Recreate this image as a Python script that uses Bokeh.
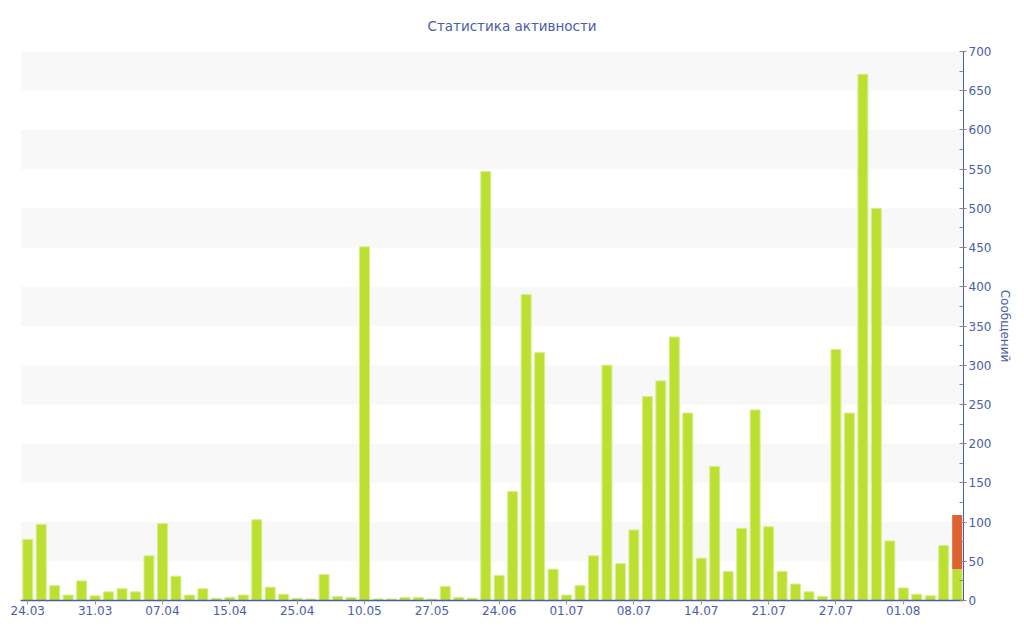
from bokeh.plotting import figure
from bokeh.models import ColumnDataSource, FixedTicker, SingleIntervalTicker, Range1d, LinearAxis, BoxAnnotation
from bokeh.embed import file_html
from bokeh.resources import INLINE

# ---- data ----
tick_labels = ["24.03", "31.03", "07.04", "15.04", "25.04", "10.05", "27.05",
               "24.06", "01.07", "08.07", "14.07", "21.07", "27.07", "01.08"]
messages = [78, 97, 19, 7, 25, 6, 11, 15, 11, 57,
            98, 31, 7, 15, 3, 4, 7, 103, 17, 8,
            3, 2, 33, 5, 4, 451, 2, 2, 4, 4,
            2, 18, 4, 3, 547, 32, 139, 390, 316, 40,
            7, 19, 57, 300, 47, 90, 260, 280, 336, 239,
            54, 171, 37, 92, 243, 94, 37, 21, 11, 5,
            320, 239, 671, 500, 76, 16, 8, 6, 70, 40]
today_extra = [0] * 69 + [69]

idx = list(range(len(messages)))
src = ColumnDataSource(dict(x=idx, main=messages, extra=today_extra))

BLUE = "#4a5da8"
GREEN = "#bce031"
ORANGE = "#e0622f"

p = figure(frame_width=943, frame_height=549, output_backend="svg",
           toolbar_location=None, x_range=Range1d(-0.54, 69.47),
           y_range=Range1d(0, 700), y_axis_location=None,
           min_border_left=20, min_border_top=51, min_border_bottom=0,
           min_border_right=0, outline_line_color=None,
           title="Статистика активности")

p.title.align = "left"
p.title.offset = 407
p.title.vertical_align = "middle"
p.title.text_font = "DejaVu Sans"
p.title.text_font_size = "13.5px"
p.title.text_font_style = "normal"
p.title.text_color = BLUE
p.title.standoff = 33

# alternating bands
for b in range(50, 700, 100):
    p.add_layout(BoxAnnotation(bottom=b, top=b + 50, fill_color="#f8f8f8",
                               fill_alpha=1, line_color=None, level="underlay"))

p.xgrid.visible = False
p.ygrid.visible = False

p.vbar_stack(["main", "extra"], x="x", width=0.74, source=src,
             color=[GREEN, ORANGE], line_color=["#d8ee8c", None], line_width=1)

# x axis
xa = p.xaxis[0]
xa.ticker = FixedTicker(ticks=[i * 5 for i in range(len(tick_labels))])
xa.major_label_overrides = {i * 5: t for i, t in enumerate(tick_labels)}
xa.axis_line_color = BLUE
xa.axis_line_width = 1.5
xa.major_tick_line_color = "#999999"
xa.major_tick_in = 0
xa.major_tick_out = 4
xa.minor_tick_line_color = None
xa.major_label_text_color = BLUE
xa.major_label_text_font = "DejaVu Sans"
xa.major_label_text_font_size = "12px"
xa.major_label_standoff = 1

# right y axis
ya = LinearAxis(ticker=SingleIntervalTicker(interval=50, num_minor_ticks=2),
                axis_label="Сообщений")
ya.axis_line_color = BLUE
ya.axis_line_width = 1
ya.major_tick_line_color = "#888888"
ya.major_tick_in = 3
ya.major_tick_out = 3
ya.minor_tick_line_color = "#888888"
ya.minor_tick_in = 4
ya.minor_tick_out = 0
ya.major_label_text_color = BLUE
ya.major_label_text_font = "DejaVu Sans"
ya.major_label_text_font_size = "12px"
ya.major_label_standoff = 2
ya.axis_label_text_color = BLUE
ya.axis_label_text_font = "DejaVu Sans"
ya.axis_label_text_font_size = "12px"
ya.axis_label_text_font_style = "normal"
ya.axis_label_standoff = 4
p.add_layout(ya, "right")

open("out.html", "w").write(file_html(p, INLINE))
